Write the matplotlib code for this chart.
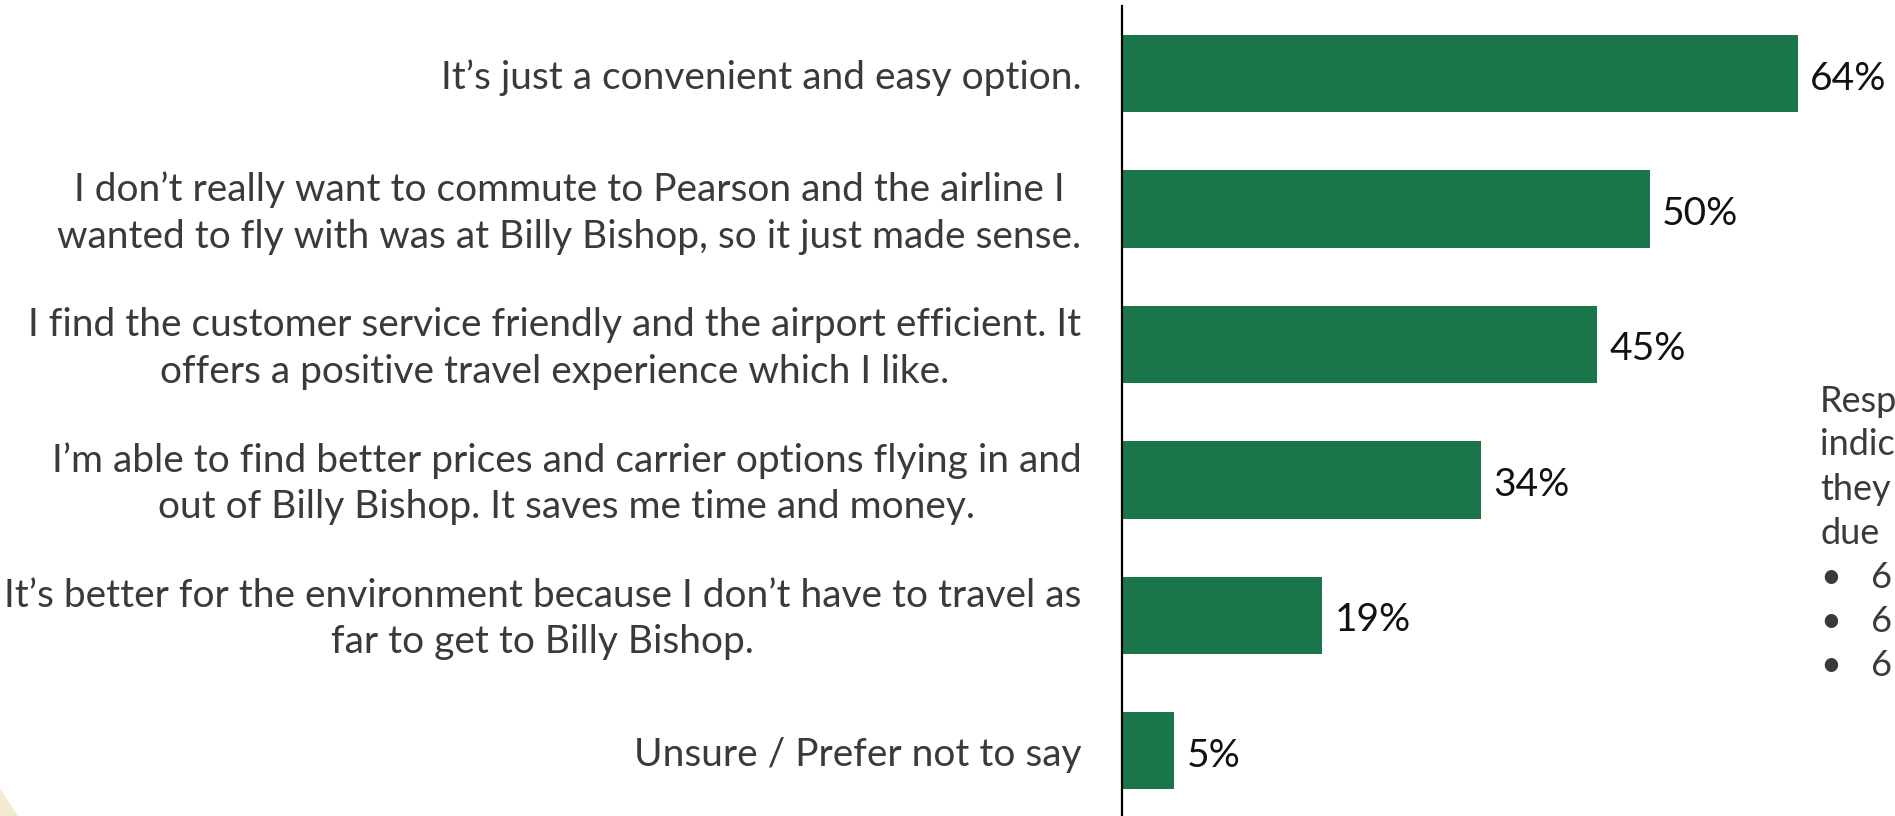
import matplotlib
matplotlib.use("Agg")
import matplotlib.pyplot as plt
from matplotlib.patches import Polygon

categories = [
    "It\u2019s just a convenient and easy option.",
    "I don\u2019t really want to commute to Pearson and the airline I\nwanted to fly with was at Billy Bishop, so it just made sense.",
    "I find the customer service friendly and the airport efficient. It\noffers a positive travel experience which I like.",
    "I\u2019m able to find better prices and carrier options flying in and\nout of Billy Bishop. It saves me time and money.",
    "It\u2019s better for the environment because I don\u2019t have to travel as\nfar to get to Billy Bishop.",
    "Unsure / Prefer not to say",
]
values = [64, 50, 45, 34, 19, 5]
value_labels = ["64%", "50%", "45%", "34%", "19%", "5%"]
side_lines = ["Resp", "indic", "they", "due"]
side_bullets = ["6", "6", "6"]

W, H = 1895, 816
fig = plt.figure(figsize=(W / 100, H / 100), dpi=100)
plt.rcParams['font.family'] = ['Lato', 'DejaVu Sans']
FS = 28
SFS = 26

axis_x = 1121.6
px_per_pct = 10.57
ax = fig.add_axes([axis_x / W, 0, 1 - axis_x / W, 1])
ax.set_xlim(0, (W - axis_x) / px_per_pct)
top_c, step = 73.7, 135.4
ax.set_ylim((H - top_c) / step, -top_c / step)

bar_color = "#1b754b"
ypos = list(range(len(categories)))
ax.barh(ypos, values, height=0.572, color=bar_color, zorder=2)

for y, v, lab in zip(ypos, values, value_labels):
    ax.annotate(lab, (v, y), xytext=(12, -5), textcoords="offset pixels",
                va="center", ha="left", fontsize=FS, color="#111111")

for y, cat in zip(ypos, categories):
    ax.annotate(cat, (0, y), xytext=(-40, -4), textcoords="offset pixels",
                va="center", ha="right", fontsize=FS, color="#3a3a3a",
                multialignment="center", linespacing=1.35,
                annotation_clip=False)

for s in ["top", "right", "bottom"]:
    ax.spines[s].set_visible(False)
ax.spines["left"].set_color("#000000")
ax.spines["left"].set_linewidth(1.6)
ax.spines["left"].set_bounds(-0.5, (H - top_c) / step)
ax.set_xticks([])
ax.set_yticks([])

# right side partially visible text
y0 = 401
for i, t in enumerate(side_lines):
    fig.text(1820 / W, 1 - (y0 + 44 * i) / H, t, ha="left", va="center",
             fontsize=SFS, color="#3a3a3a")
for j, t in enumerate(side_bullets):
    yy = 1 - (y0 + 44 * (len(side_lines) + j)) / H
    fig.text(1820 / W, yy, "\u2022", ha="left", va="center", fontsize=SFS, color="#3a3a3a")
    fig.text(1871 / W, yy, t, ha="left", va="center", fontsize=SFS, color="#3a3a3a")

# faint decorative corner at bottom-left
fig.patches.append(Polygon([(0, 0), (18 / W, 0), (0, 28 / H)], closed=True,
                           transform=fig.transFigure, facecolor="#f4ead0",
                           edgecolor="none"))

fig.savefig("out.png", dpi=100)
